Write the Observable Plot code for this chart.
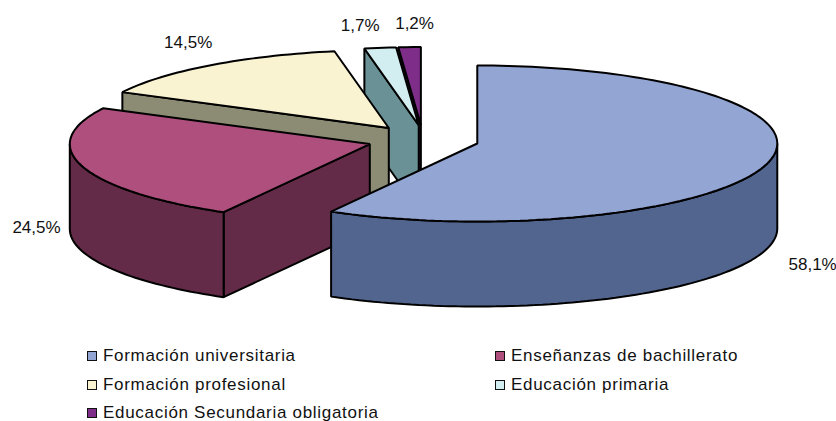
<!DOCTYPE html>
<html lang="es">
<head>
<meta charset="utf-8">
<script src="https://cdn.jsdelivr.net/npm/d3@7"></script>
<script src="https://cdn.jsdelivr.net/npm/@observablehq/plot@0.6"></script>
<style>
  html,body{margin:0;padding:0;background:#fff;width:836px;height:421px;overflow:hidden}
  svg{display:block}
  #legend{position:absolute;left:87px;top:342px;display:grid;grid-template-columns:408px 300px;grid-auto-rows:28.5px;
    font:17px "Liberation Sans",Arial,sans-serif;color:#111;letter-spacing:.7px}
  #legend div{display:flex;align-items:center;white-space:nowrap}
  #legend i{display:block;box-sizing:border-box;width:10px;height:10px;border:1.6px solid #111;margin-right:6px}
</style>
</head>
<body>
<div id="chart"></div>
<div id="legend"></div>
<script>
const categories = ["Formación universitaria","Enseñanzas de bachillerato","Formación profesional","Educación primaria","Educación Secundaria obligatoria"];
const values = [58.1, 24.5, 14.5, 1.7, 1.2];
const labels = ["58,1%","24,5%","14,5%","1,7%","1,2%"];
const topColors = ["#93a5d3","#ae4f7d","#faf3d2","#d3eef0","#7e2e88"];
const wallColors = ["#52658f","#632b47","#8c8c75","#6a9296","#45184a"];

// layout of the exploded 3D pie
const W = 836, H = 340;
const cx = 422, cy = 139.3, rx = 300, ry = 78, depth = 85, explode = 56.6;
const nudgeX = [0, 1.5, 0, 3.5, 0.5];
const labelDx = [45, -46, -22, -20, 5], labelDy = [101, 61, -23, -22, -24];

const rad = d => d * Math.PI / 180;
let cum = 0;
const slices = values.map((v, i) => {
  const a0 = cum * 3.6; cum += v; const a1 = cum * 3.6; const am = (a0 + a1) / 2;
  const ax = cx + explode * Math.sin(rad(am)) + nudgeX[i];
  const ay = cy - explode * Math.cos(rad(am)) * ry / rx;
  return {i, a0, a1, am, ax, ay};
});
const rim = (s, a, dz = 0) => ({x: s.ax + rx * Math.sin(rad(a)), y: s.ay - ry * Math.cos(rad(a)) + dz});
const arc = (s, from, to, dz = 0) => {
  const n = Math.max(2, Math.ceil((to - from) / 1.5));
  return d3.range(n + 1).map(k => rim(s, from + (to - from) * k / n, dz));
};

const polyMarks = [];
const poly = (pts, fill) => polyMarks.push(Plot.line(pts, {
  x: "x", y: "y", fill, stroke: "#000", strokeWidth: 2,
  strokeLinejoin: "miter", curve: "linear-closed"
}));

[...slices].reverse().forEach(s => {
  const wall = wallColors[s.i];
  if (s.a0 > 180 && s.a0 < 360) {
    const r = rim(s, s.a0);
    poly([r, {x: s.ax, y: s.ay}, {x: s.ax, y: s.ay + depth}, {x: r.x, y: r.y + depth}], wall);
  }
  const lo = Math.max(s.a0, 90), hi = Math.min(s.a1, 270);
  if (hi > lo) poly([...arc(s, lo, hi), ...arc(s, lo, hi, depth).reverse()], wall);
  poly([{x: s.ax, y: s.ay}, ...arc(s, s.a0, s.a1)], topColors[s.i]);
});

const labelData = slices.map(s => {
  const r = rim(s, s.am);
  return {x: r.x + labelDx[s.i], y: r.y + labelDy[s.i], t: labels[s.i]};
});

const chart = Plot.plot({
  width: W, height: H, margin: 0,
  x: {domain: [0, W], range: [0, W], axis: null},
  y: {domain: [0, H], range: [0, H], axis: null},
  style: {background: "#fff"},
  marks: [
    ...polyMarks,
    Plot.text(labelData, {x: "x", y: "y", text: "t", fontSize: 17, fill: "#111",
      fontFamily: "Liberation Sans, Arial, sans-serif", textAnchor: "middle"})
  ]
});
document.getElementById("chart").appendChild(chart);

const legend = document.getElementById("legend");
categories.forEach((c, i) => {
  const d = document.createElement("div");
  const sw = document.createElement("i");
  sw.style.background = topColors[i];
  d.appendChild(sw);
  d.appendChild(document.createTextNode(c));
  legend.appendChild(d);
});
</script>
</body>
</html>
